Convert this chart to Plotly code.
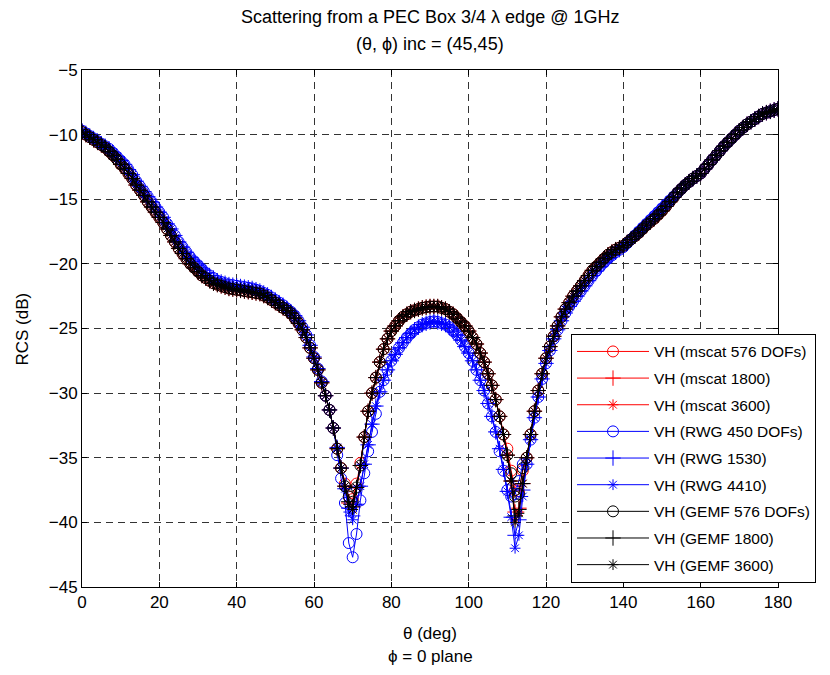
import plotly.graph_objects as go

# ---------------- data ----------------
theta = list(range(0, 181))

# GEMF / mscat family curve (dB), theta = 0..180 step 1
gemf_base = [
    -9.8, -10.0, -10.2, -10.4, -10.6, -10.8, -11.0, -11.3, -11.6, -11.9,
    -12.3, -12.6, -13.0, -13.4, -13.9, -14.3, -14.7, -15.2, -15.6, -16.0,
    -16.4, -16.8, -17.3, -17.8, -18.3, -18.8, -19.2, -19.6, -20.0, -20.3,
    -20.6, -20.9, -21.1, -21.3, -21.5, -21.6, -21.7, -21.8, -21.9, -21.95,
    -22.0, -22.05, -22.1, -22.15, -22.2, -22.25, -22.3, -22.45, -22.6, -22.8,
    -23.0, -23.2, -23.4, -23.6, -23.8, -24.2, -24.6, -25.1, -25.7, -26.5,
    -27.3, -28.2, -29.2, -30.2, -31.3, -32.7, -34.3, -35.8, -37.2, -38.3,
    -38.6, -37.3, -35.6, -33.4, -31.4, -30.0, -28.8, -27.6, -26.6, -25.8,
    -25.2, -24.8, -24.4, -24.1, -23.9, -23.7, -23.6, -23.5, -23.4, -23.35,
    -23.3, -23.3, -23.3, -23.4, -23.5, -23.7, -23.9, -24.2, -24.5, -24.8,
    -25.2, -25.7, -26.2, -26.9, -27.6, -28.5, -29.4, -30.5, -31.8, -33.2,
    -34.8, -36.8, -39.0, -38.8, -37.0, -35.0, -33.2, -31.4, -29.8, -28.5,
    -27.3, -26.4, -25.6, -24.8, -24.1, -23.5, -23.0, -22.5, -22.1, -21.7,
    -21.3, -20.9, -20.5, -20.2, -19.9, -19.6, -19.3, -19.1, -18.9, -18.75,
    -18.6, -18.35, -18.1, -17.85, -17.6, -17.3, -17.0, -16.75, -16.5, -16.2,
    -15.9, -15.55, -15.2, -14.85, -14.5, -14.2, -13.9, -13.65, -13.4, -13.2,
    -13.0, -12.65, -12.3, -11.95, -11.6, -11.25, -10.9, -10.6, -10.3, -10.0,
    -9.7, -9.45, -9.2, -9.0, -8.8, -8.6, -8.4, -8.3, -8.2, -8.1,
    -8.0,
]

# RWG family curve (dB), theta = 0..180 step 1
rwg_base = [
    -9.7, -9.9, -10.1, -10.3, -10.5, -10.7, -10.9, -11.1, -11.4, -11.7,
    -12.0, -12.3, -12.7, -13.1, -13.6, -14.0, -14.4, -14.8, -15.2, -15.6,
    -16.0, -16.4, -16.9, -17.3, -17.8, -18.3, -18.7, -19.1, -19.5, -19.8,
    -20.1, -20.4, -20.7, -20.9, -21.1, -21.3, -21.4, -21.5, -21.6, -21.65,
    -21.7, -21.75, -21.8, -21.85, -21.9, -22.0, -22.1, -22.25, -22.4, -22.6,
    -22.8, -23.0, -23.2, -23.45, -23.7, -24.0, -24.4, -24.9, -25.5, -26.3,
    -27.2, -28.1, -29.1, -30.2, -31.3, -32.7, -34.2, -35.8, -37.4, -38.9,
    -39.6, -38.6, -37.2, -35.5, -34.0, -32.4, -31.0, -29.9, -29.0, -28.2,
    -27.5, -27.0, -26.5, -26.1, -25.7, -25.4, -25.1, -24.9, -24.7, -24.6,
    -24.5, -24.45, -24.5, -24.6, -24.7, -24.9, -25.2, -25.5, -25.9, -26.4,
    -26.9, -27.5, -28.2, -29.0, -29.8, -30.8, -31.8, -33.0, -34.3, -35.9,
    -37.6, -39.6, -41.5, -40.0, -37.5, -35.5, -33.6, -31.9, -30.3, -28.9,
    -27.7, -26.7, -25.8, -25.1, -24.4, -23.8, -23.3, -22.9, -22.5, -22.1,
    -21.7, -21.3, -20.9, -20.55, -20.2, -19.9, -19.6, -19.35, -19.1, -18.9,
    -18.7, -18.4, -18.1, -17.8, -17.5, -17.2, -16.9, -16.6, -16.3, -16.0,
    -15.7, -15.4, -15.1, -14.8, -14.5, -14.2, -13.9, -13.65, -13.4, -13.2,
    -13.0, -12.65, -12.3, -11.95, -11.6, -11.25, -10.9, -10.6, -10.3, -10.0,
    -9.7, -9.45, -9.2, -9.0, -8.8, -8.6, -8.4, -8.3, -8.2, -8.1,
    -8.0,
]

# values near the two nulls that differ per discretisation (theta: dB)
dip_mscat_576 = {68: -37.0, 69: -38.0, 70: -38.2, 71: -37.0, 72: -35.4,
                 110: -34.3, 111: -36.0, 112: -37.5, 113: -37.6, 114: -36.0}
dip_mscat_1800 = {69: -38.5, 70: -38.8, 112: -39.2, 113: -38.9}
dip_mscat_3600 = {69: -38.6, 70: -39.0, 112: -39.8, 113: -39.2}
dip_rwg_450 = {66: -34.8, 67: -36.6, 68: -38.5, 69: -41.6, 70: -42.7, 71: -40.9,
               72: -38.3, 73: -36.2, 74: -34.5, 75: -33.0, 76: -31.6,
               108: -34.5, 109: -36.0, 110: -37.5, 111: -38.0, 112: -37.8,
               113: -36.8, 114: -35.5}
dip_rwg_1530 = {69: -38.9, 70: -39.5, 112: -41.0, 113: -39.8}
dip_rwg_4410 = {69: -39.2, 70: -39.8, 112: -42.0, 113: -41.0, 114: -38.0}
dip_gemf_576 = {69: -38.0, 70: -38.4, 111: -36.2, 112: -38.0, 113: -37.8, 114: -35.8}
dip_gemf_1800 = {69: -38.4, 70: -38.8, 112: -39.5, 113: -39.0}
dip_gemf_3600 = {69: -38.6, 70: -39.0, 112: -40.0, 113: -39.3}

series_names = [
    "VH (mscat 576 DOFs)", "VH (mscat 1800)", "VH (mscat 3600)",
    "VH (RWG 450 DOFs)", "VH (RWG 1530)", "VH (RWG 4410)",
    "VH (GEMF 576 DOFs)", "VH (GEMF 1800)", "VH (GEMF 3600)",
]
series_base = [gemf_base, gemf_base, gemf_base,
               rwg_base, rwg_base, rwg_base,
               gemf_base, gemf_base, gemf_base]
series_dips = [dip_mscat_576, dip_mscat_1800, dip_mscat_3600,
               dip_rwg_450, dip_rwg_1530, dip_rwg_4410,
               dip_gemf_576, dip_gemf_1800, dip_gemf_3600]

# ---------------- styles ----------------
colors = ["#ff0000"] * 3 + ["#0000ff"] * 3 + ["#000000"] * 3
symbols = ["circle-open", "cross-thin-open", "asterisk-open"] * 3
msizes = [11, 11, 9] * 3

FONT = "Liberation Sans, Arial, sans-serif"

fig = go.Figure()
for i, (name, base, dips, col, sym, ms) in enumerate(zip(
        series_names, series_base, series_dips, colors, symbols, msizes)):
    pts = dict(zip(theta, base))
    pts.update(dips)
    xs = sorted(pts)
    ys = [pts[t] for t in xs]
    fig.add_trace(go.Scatter(
        x=xs, y=ys, name=name, mode="lines+markers", legendgroup=f"g{i}",
        line=dict(color=col, width=1),
        marker=dict(symbol=sym, size=ms, color=col, line=dict(color=col, width=1)),
    ))

axis_common = dict(
    showline=True, linecolor="black", linewidth=1, mirror="ticks",
    ticks="inside", ticklen=5, tickcolor="black", tickwidth=1,
    showgrid=True, gridcolor="#333333", gridwidth=1, griddash="7px,5px",
    zeroline=False, tickfont=dict(family=FONT, size=17, color="black"),
)

fig.update_layout(
    width=830, height=675,
    margin=dict(l=82, r=52, t=70, b=88),
    paper_bgcolor="white", plot_bgcolor="white",
    font=dict(family=FONT, size=17, color="black"),
    showlegend=True,
    legend=dict(
        x=0.7026, y=0.008, xanchor="left", yanchor="bottom",
        bgcolor="white", bordercolor="black", borderwidth=1,
        font=dict(family=FONT, size=15.5, color="black"),
        itemwidth=72, tracegroupgap=3.5,
    ),
    xaxis=dict(range=[0, 180], tickvals=list(range(0, 181, 20)), **axis_common),
    yaxis=dict(range=[-45, -5], tickvals=list(range(-45, -4, 5)), **axis_common),
    annotations=[
        dict(text="Scattering from a PEC Box 3/4 λ edge @ 1GHz", x=0.5, y=1 + 53 / 517,
             xref="paper", yref="paper", showarrow=False, xanchor="center", yanchor="middle",
             font=dict(family=FONT, size=18)),
        dict(text="(θ, ϕ) inc = (45,45)", x=0.5, y=1 + 26 / 517,
             xref="paper", yref="paper", showarrow=False, xanchor="center", yanchor="middle",
             font=dict(family=FONT, size=18)),
        dict(text="θ (deg)", x=0.5, y=-(633 - 587) / 517,
             xref="paper", yref="paper", showarrow=False, xanchor="center", yanchor="middle",
             font=dict(family=FONT, size=17)),
        dict(text="ϕ = 0 plane", x=0.5, y=-(656 - 587) / 517,
             xref="paper", yref="paper", showarrow=False, xanchor="center", yanchor="middle",
             font=dict(family=FONT, size=17)),
        dict(text="RCS (dB)", x=-(82 - 22) / 696, y=0.5,
             xref="paper", yref="paper", showarrow=False, xanchor="center", yanchor="middle",
             textangle=-90, font=dict(family=FONT, size=17)),
    ],
)

fig.write_html("out.html")
